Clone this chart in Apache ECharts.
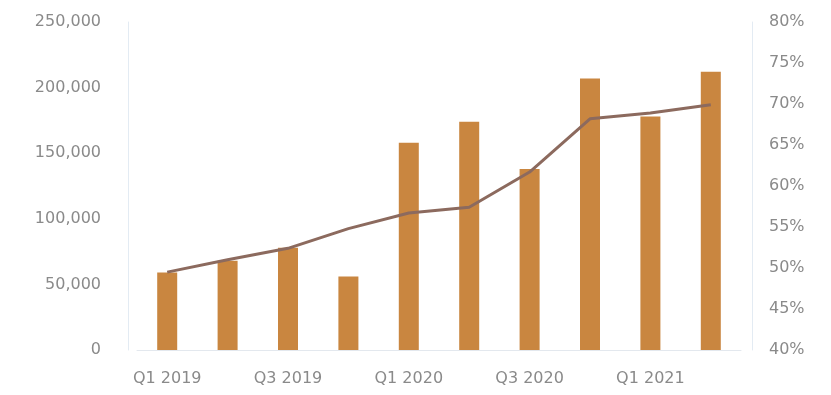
<!DOCTYPE html>
<html>
<head>
<meta charset="utf-8">
<script src="https://cdn.jsdelivr.net/npm/echarts@6/dist/echarts.min.js"></script>
<style>
  html, body { margin: 0; padding: 0; background: #fff; }
  #chart { width: 831px; height: 395px; }
</style>
</head>
<body>
<div id="chart"></div>
<script>
// Quarterly revenue (bars, left axis) and margin (line, right axis)
const quarters = ['Q1 2019', 'Q2 2019', 'Q3 2019', 'Q4 2019', 'Q1 2020',
                  'Q2 2020', 'Q3 2020', 'Q4 2020', 'Q1 2021', 'Q2 2021'];
const revenue = [59000, 68000, 78000, 56000, 158000, 174000, 138000, 207000, 178000, 212000];
const margin = [49.5, 51.0, 52.4, 54.8, 56.7, 57.4, 61.7, 68.2, 68.9, 69.9];

const labelFont = { color: '#8a8a8a', fontSize: 16, fontFamily: 'DejaVu Sans' };

const chart = echarts.init(document.getElementById('chart'));
chart.setOption({
  animation: false,
  grid: { left: 137, right: 90, top: 22, bottom: 45 },
  xAxis: {
    type: 'category',
    data: quarters,
    axisLine: { show: true, lineStyle: { color: '#e3e8ee' } },
    axisTick: { show: false },
    axisLabel: Object.assign({ interval: 1, margin: 21 }, labelFont)
  },
  yAxis: [
    {
      type: 'value', min: 0, max: 250000, interval: 50000,
      offset: 9,
      axisLine: { show: true, lineStyle: { color: '#e3ebf3' } },
      axisTick: { show: false },
      splitLine: { show: false },
      axisLabel: Object.assign({ margin: 27 }, labelFont)
    },
    {
      type: 'value', min: 40, max: 80, interval: 5,
      offset: 11,
      axisLine: { show: true, lineStyle: { color: '#e3ebf3' } },
      axisTick: { show: false },
      splitLine: { show: false },
      axisLabel: Object.assign({ margin: 17, formatter: '{value}%' }, labelFont)
    }
  ],
  series: [
    {
      type: 'bar',
      data: revenue,
      barWidth: 20,
      itemStyle: { color: '#c98640' }
    },
    {
      type: 'line',
      yAxisIndex: 1,
      data: margin,
      symbol: 'none',
      lineStyle: { color: '#8c6a5e', width: 3 }
    }
  ]
});
</script>
</body>
</html>
